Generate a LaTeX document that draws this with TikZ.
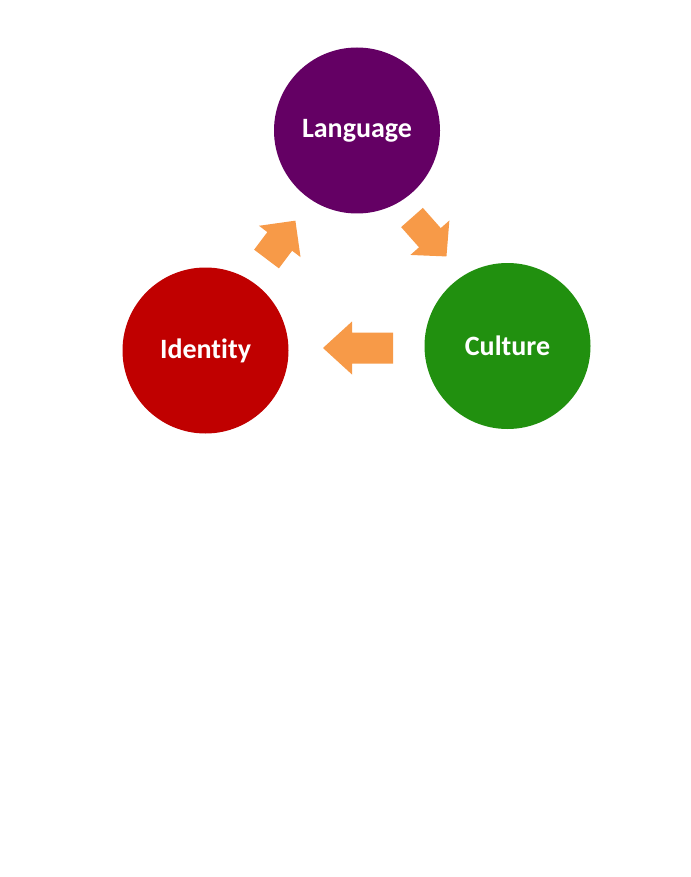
\documentclass[tikz,border=0pt]{standalone}
\usepackage{fontspec}
\setmainfont[Ligatures=NoCommon]{Carlito}
\definecolor{langpurple}{HTML}{640064}
\definecolor{idred}{HTML}{C00000}
\definecolor{culgreen}{HTML}{21900F}
\definecolor{arroworange}{HTML}{F79A48}
\begin{document}
\begin{tikzpicture}[x=1pt,y=-1pt,
  bubble/.style={circle,minimum size=166pt,inner sep=0pt,text=white,
    font=\fontsize{28}{33}\selectfont\bfseries},
  blockarrow/.style={fill=arroworange,draw=none}]
\useasboundingbox[fill=white] (0,0) rectangle (690,877);
\node[bubble,fill=langpurple] (lang) at (357,130.5) {\raisebox{-2pt}{Language}};
\node[bubble,fill=culgreen] (cult) at (507.5,346) {\raisebox{-1pt}{Culture}};
\node[bubble,fill=idred] (ident) at (205.5,350.5) {\raisebox{-1pt}{Identity}};
% Culture -> Identity
\fill[blockarrow,shift={(393,348)},rotate=180]
  (0,-15.5) -- (41,-15.5) -- (41,-26.5) -- (70,0) -- (41,26.5) -- (41,15.5) -- (0,15.5) -- cycle;
% Identity -> Language
\fill[blockarrow,shift={(266.5,259)},rotate=53]
  (0,-15.5) -- (22,-15.5) -- (22,-26) -- (48,0) -- (22,26) -- (22,15.5) -- (0,15.5) -- cycle;
% Language -> Culture
\fill[blockarrow,shift={(412,217.5)},rotate=-48.5]
  (0,-14.5) -- (27,-14.5) -- (27,-26) -- (52,0) -- (27,26) -- (27,14.5) -- (0,14.5) -- cycle;
\end{tikzpicture}
\end{document}
